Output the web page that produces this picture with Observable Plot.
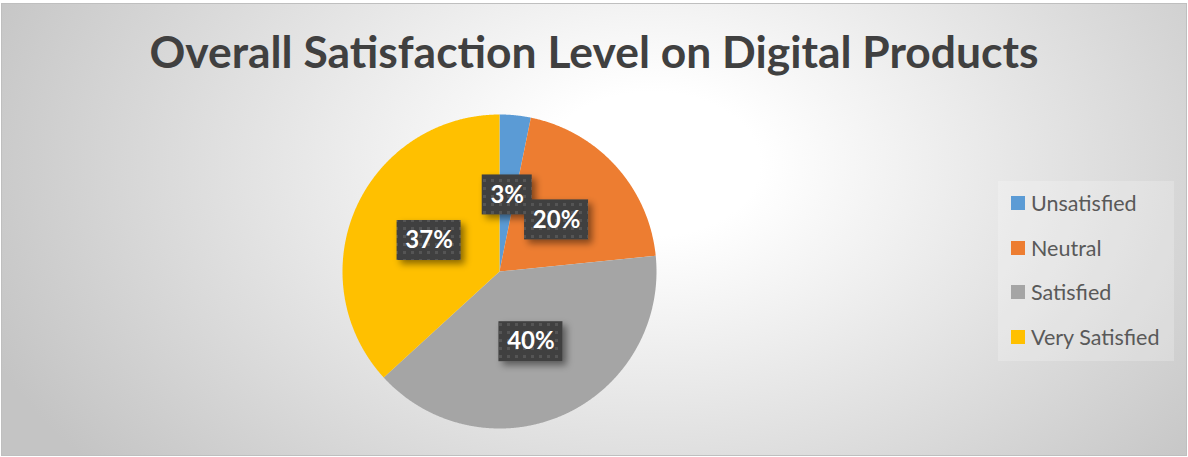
<!DOCTYPE html>
<html><head><meta charset="utf-8">
<script src="https://cdn.jsdelivr.net/npm/d3@7"></script>
<script src="https://cdn.jsdelivr.net/npm/@observablehq/plot@0.6"></script>
<style>
body{margin:0;background:#fff;font-family:Lato,"Open Sans",sans-serif;}
#wrap{position:relative;width:1188px;height:457px;overflow:hidden;}
#bg{position:absolute;left:1px;top:3px;width:1184px;height:451px;border:1px solid #bfbfbf;
  background:radial-gradient(ellipse 720px 480px at 650px 160px,#ffffff 15%,#c4c4c4 100%);}
#title{position:absolute;left:0;width:1188px;top:20px;text-align:center;font-weight:700;font-size:44.4px;color:#404040;line-height:62px;white-space:nowrap;}
#legend{position:absolute;left:998px;top:181px;width:176px;height:180px;background:rgba(255,255,255,0.22);}
.item{position:absolute;left:13px;height:24px;display:flex;align-items:center;font-size:21.5px;color:#595959;white-space:nowrap;}
.sw{width:14px;height:14px;margin-right:6px;flex:none;}
#chart{position:absolute;left:0;top:0;}
</style></head>
<body>
<div id="wrap">
  <div id="bg"></div>
  <div id="title"></div>
  <div id="legend"></div>
  <div id="chart"></div>
</div>
<script>
const title = "Overall Satisfaction Level on Digital Products";
const categories = ["Unsatisfied", "Neutral", "Satisfied", "Very Satisfied"];
const values = [3.2, 20.2, 39.8, 36.8];
const colors = ["#5B9BD5", "#ED7D31", "#A5A5A5", "#FFC000"];

document.getElementById("title").textContent = title;

// legend
const legend = document.getElementById("legend");
categories.forEach((c, i) => {
  const it = document.createElement("div");
  it.className = "item";
  it.style.top = (10 + i * 44.7) + "px";
  const sw = document.createElement("span");
  sw.className = "sw"; sw.style.background = colors[i];
  const tx = document.createElement("span"); tx.textContent = c;
  it.appendChild(sw); it.appendChild(tx);
  legend.appendChild(it);
});

const data = categories.map((c, i) => ({category: c, value: values[i]}));
const arcs = d3.pie().sort(null).value(d => d.value)(data);

// polygon points of each slice in unit coordinates
const pts = [];
arcs.forEach(a => {
  const c = a.data.category;
  pts.push({category: c, x: 0, y: 0});
  const n = Math.max(2, Math.ceil((a.endAngle - a.startAngle) / 0.005));
  for (let k = 0; k <= n; k++) {
    const t = a.startAngle + (a.endAngle - a.startAngle) * k / n;
    pts.push({category: c, x: Math.sin(t), y: Math.cos(t)});
  }
  pts.push({category: c, x: 0, y: 0});
});

const labelR = 0.49;
const labels = arcs.map(a => {
  const m = (a.startAngle + a.endAngle) / 2;
  return {label: Math.round(a.data.value) + "%", x: labelR * Math.sin(m), y: labelR * Math.cos(m)};
});

const svgNS = "http://www.w3.org/2000/svg";
const defs = () => {
  const d = document.createElementNS(svgNS, "defs");
  d.innerHTML = `
    <pattern id="dots" width="8" height="8" patternUnits="userSpaceOnUse">
      <rect width="8" height="8" fill="#3f3f3f"></rect>
      <rect x="3" y="3" width="3" height="3" fill="#555555"></rect>
    </pattern>
    <filter id="shadow" x="-30%" y="-30%" width="170%" height="170%">
      <feDropShadow dx="4" dy="4" stdDeviation="3.5" flood-color="#000" flood-opacity="0.45"></feDropShadow>
    </filter>`;
  return d;
};

// label boxes placed through the chart's own scales
const boxes = (index, scales) => {
  const g = document.createElementNS(svgNS, "g");
  labels.forEach(d => {
    const w = d.label.length <= 2 ? 50 : 64, h = 40;
    const r = document.createElementNS(svgNS, "rect");
    r.setAttribute("x", scales.x(d.x) - w / 2);
    r.setAttribute("y", scales.y(d.y) - h / 2);
    r.setAttribute("width", w);
    r.setAttribute("height", h);
    r.setAttribute("fill", "url(#dots)");
    r.setAttribute("filter", "url(#shadow)");
    g.appendChild(r);
  });
  return g;
};

const chart = Plot.plot({
  width: 1188, height: 457,
  marginLeft: 342, marginRight: 532, marginTop: 114, marginBottom: 29,
  style: {background: "transparent", overflow: "visible"},
  x: {domain: [-1, 1], axis: null},
  y: {domain: [-1, 1], axis: null},
  color: {domain: categories, range: colors},
  marks: [
    defs,
    Plot.line(pts, {x: "x", y: "y", z: "category", fill: "category", stroke: "none", curve: "linear"}),
    boxes,
    Plot.text(labels, {x: "x", y: "y", text: "label", fill: "white", fontSize: 24, fontWeight: "bold", fontFamily: "Lato, sans-serif"})
  ]
});
document.getElementById("chart").appendChild(chart);
</script>
</body></html>
